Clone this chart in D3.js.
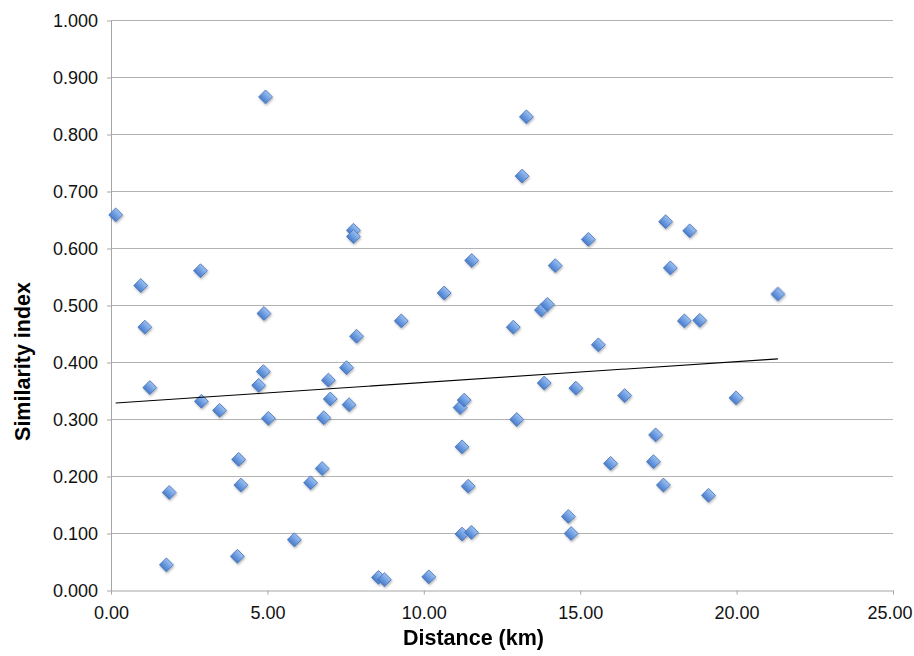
<!DOCTYPE html>
<html>
<head>
<meta charset="utf-8">
<script src="https://cdn.jsdelivr.net/npm/d3@7"></script>
<style>
  html, body { margin: 0; padding: 0; background: #fff; }
  svg { display: block; }
</style>
</head>
<body>
<svg id="chart" width="914" height="656"></svg>
<script>
// ---- data ----
const distance = [
  0.15, 0.95, 1.08, 1.24, 1.86, 1.77, 2.86, 2.89, 3.47, 4.08, 4.15, 4.04,
  4.94, 4.89, 4.87, 4.72, 5.03, 5.86, 6.38, 6.75, 6.80, 6.95, 7.01, 7.53,
  7.61, 7.75, 7.75, 7.85, 8.55, 8.74, 10.16, 9.28, 10.65, 11.16, 11.29, 11.22,
  11.42, 11.22, 11.52, 11.53, 12.97, 12.86, 13.14, 13.28, 13.76, 13.95, 13.85, 14.20,
  14.62, 14.71, 14.86, 15.26, 15.58, 15.97, 16.42, 17.41, 17.34, 17.66, 17.73, 17.88,
  18.33, 18.50, 18.82, 19.10, 19.98, 21.32
];
const similarity = [
  0.659, 0.535, 0.462, 0.356, 0.172, 0.045, 0.561, 0.332, 0.316, 0.230, 0.185, 0.060,
  0.866, 0.486, 0.384, 0.360, 0.302, 0.089, 0.189, 0.214, 0.303, 0.369, 0.336, 0.391,
  0.326, 0.632, 0.621, 0.446, 0.023, 0.019, 0.024, 0.473, 0.522, 0.321, 0.334, 0.252,
  0.183, 0.099, 0.102, 0.579, 0.300, 0.462, 0.727, 0.831, 0.492, 0.502, 0.364, 0.570,
  0.130, 0.100, 0.355, 0.616, 0.431, 0.223, 0.342, 0.273, 0.226, 0.185, 0.647, 0.566,
  0.473, 0.631, 0.474, 0.167, 0.338, 0.520
];
const xTicks = [0, 5, 10, 15, 20, 25];
const yTicks = [0, 0.1, 0.2, 0.3, 0.4, 0.5, 0.6, 0.7, 0.8, 0.9, 1.0];
const trendIntercept = 0.3285;
const trendSlope = 0.00365;
const xTitle = "Distance (km)";
const yTitle = "Similarity index";

// ---- chart ----
const svg = d3.select("#chart");
const x = d3.scaleLinear().domain([0, 25]).range([111, 893]);
const y = d3.scaleLinear().domain([0, 1]).range([590.5, 20.5]);

const defs = svg.append("defs");
const grad = defs.append("linearGradient").attr("id", "mk").attr("x1", 0).attr("y1", 0).attr("x2", 0).attr("y2", 1);
grad.append("stop").attr("offset", "0%").attr("stop-color", "#9cc0f0");
grad.append("stop").attr("offset", "55%").attr("stop-color", "#6b9be0");
grad.append("stop").attr("offset", "100%").attr("stop-color", "#4a7cc9");
const flt = defs.append("filter").attr("id", "sh").attr("x", "-50%").attr("y", "-50%").attr("width", "200%").attr("height", "200%");
flt.append("feDropShadow").attr("dx", 0.8).attr("dy", 1.5).attr("stdDeviation", 1)
  .attr("flood-color", "#000").attr("flood-opacity", 0.3);

// gridlines
svg.append("g").selectAll("line").data(yTicks.slice(1)).join("line")
  .attr("x1", x(0)).attr("x2", x(25))
  .attr("y1", d => y(d)).attr("y2", d => y(d))
  .attr("stroke", "#b3b3b3").attr("stroke-width", 1);

const font = "'Liberation Sans', Arial, Helvetica, sans-serif";

// y axis
const yAxis = d3.axisLeft(y).tickValues(yTicks).tickFormat(d3.format(".3f")).tickSizeInner(4).tickSizeOuter(0).tickPadding(9);
const gy = svg.append("g").attr("transform", `translate(${x(0)},0)`).call(yAxis);
gy.select(".domain").attr("stroke", "#a6a6a6");
gy.selectAll(".tick line").attr("stroke", "#a6a6a6");
gy.selectAll(".tick text").attr("font-family", font).attr("font-size", 18).attr("fill", "#111").attr("dy", "0.34em");

// x axis
const xAxis = d3.axisBottom(x).tickValues(xTicks).tickFormat(d3.format(".2f")).tickSizeInner(4).tickSizeOuter(0).tickPadding(12);
const gx = svg.append("g").attr("transform", `translate(0,${y(0)})`).call(xAxis);
gx.select(".domain").attr("stroke", "#a6a6a6");
gx.selectAll(".tick line").attr("stroke", "#a6a6a6");
gx.selectAll(".tick text").attr("font-family", font).attr("font-size", 18).attr("fill", "#111").attr("dy", "0.71em");
// keep the last label inside the page, as in the reference
gx.selectAll(".tick text").filter(d => d === 25).attr("text-anchor", "end").attr("x", 19);

// points
const data = distance.map((d, i) => ({ x: d, y: similarity[i] }));
const diamond = d3.symbol().type(d3.symbolSquare).size(96);
svg.append("g").attr("filter", "url(#sh)").selectAll("path").data(data).join("path")
  .attr("d", diamond)
  .attr("transform", d => `translate(${x(d.x)},${y(d.y)}) rotate(45)`)
  .attr("fill", "url(#mk)")
  .attr("stroke", "#4773b8").attr("stroke-width", 0.8);

// trend line
const xr = d3.extent(distance);
svg.append("line")
  .attr("x1", x(xr[0])).attr("y1", y(trendIntercept + trendSlope * xr[0]))
  .attr("x2", x(xr[1])).attr("y2", y(trendIntercept + trendSlope * xr[1]))
  .attr("stroke", "#000").attr("stroke-width", 1.1);

// titles
svg.append("text").text(xTitle)
  .attr("x", 473.5).attr("y", 645)
  .attr("text-anchor", "middle").attr("font-family", font).attr("font-weight", "bold")
  .attr("font-size", 21.5).attr("fill", "#000");
svg.append("text").text(yTitle)
  .attr("transform", "translate(29.5,361.5) rotate(-90)")
  .attr("text-anchor", "middle").attr("font-family", font).attr("font-weight", "bold")
  .attr("font-size", 21.5).attr("fill", "#000");
</script>
</body>
</html>
